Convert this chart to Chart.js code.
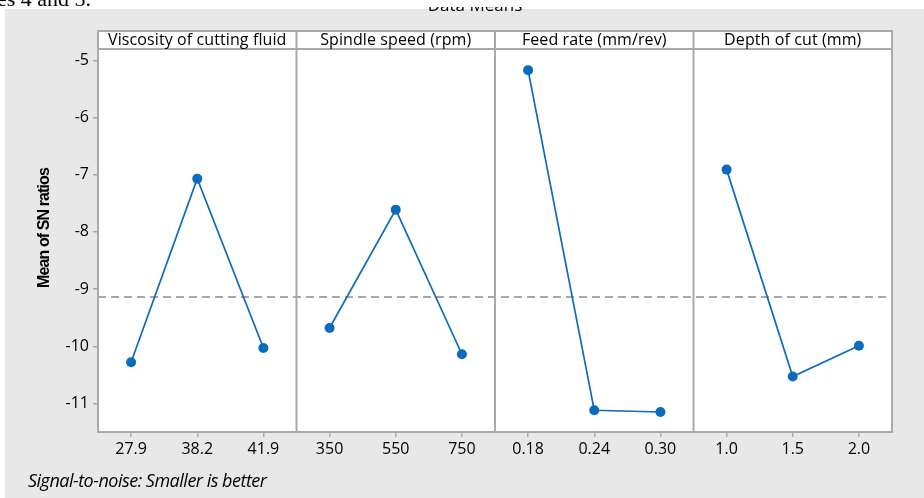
<!DOCTYPE html>
<html>
<head>
<meta charset="utf-8">
<script src="https://cdn.jsdelivr.net/npm/chart.js@4.4.0/dist/chart.umd.min.js"></script>
<style>
html,body{margin:0;padding:0;background:#fff;}
</style>
</head>
<body>
<canvas id="effectsChart" width="924" height="498"></canvas>
<script>
// factor levels
const viscosityLevels=['27.9','38.2','41.9'];
const spindleLevels=['350','550','750'];
const feedLevels=['0.18','0.24','0.30'];
const depthLevels=['1.0','1.5','2.0'];

// mean SN ratio at each level
const viscositySN=[-10.28,-7.07,-10.03];
const spindleSN=[-9.68,-7.61,-10.14];
const feedSN=[-5.17,-11.12,-11.15];
const depthSN=[-6.91,-10.53,-9.99];

const factorTitles=['Viscosity of cutting fluid','Spindle speed (rpm)','Feed rate (mm/rev)','Depth of cut (mm)'];
const yTicks=[-5,-6,-7,-8,-9,-10,-11];
const grandMean=-9.14;

const blue='#0b6bbd';
const frame='#a9a9a9';

const levels=[viscosityLevels,spindleLevels,feedLevels,depthLevels];
const means=[viscositySN,spindleSN,feedSN,depthSN];
const labels=[].concat(...levels);

// one dataset per factor, nulls keep the panels apart
const datasets=means.map((vals,i)=>{
let d=labels.map(()=>null);
vals.forEach((v,j)=>{d[i*3+j]=v;});
return {label:factorTitles[i],data:d,borderColor:blue,backgroundColor:blue,
borderWidth:1.7,pointRadius:5,pointHoverRadius:5,pointBorderWidth:0,spanGaps:false};
});

const panelPlugin={
id:'panels',
beforeDraw(chart){
const c=chart.ctx,a=chart.chartArea;
c.save();
c.fillStyle='#fff';
c.fillRect(0,0,chart.width,chart.height);
c.fillStyle='#e8e8e8';
c.fillRect(5,9,chart.width-5,chart.height-9);
// text of the page above the figure
c.fillStyle='#000';
c.font='22px "Liberation Serif"';
c.textBaseline='alphabetic';
c.textAlign='left';
c.fillText('es 4 and 5.',-3,6);
// figure subtitle, cut off at the top edge
c.save();
c.beginPath();
c.rect(0,7,chart.width,10);
c.clip();
c.font='17px "Open Sans"';
c.textAlign='center';
c.fillText('Data Means',475,11);
c.restore();
// plot and header strip
c.fillStyle='#fff';
c.fillRect(a.left,31,a.right-a.left,a.bottom-31);
c.restore();
},
beforeDatasetsDraw(chart){
const c=chart.ctx,a=chart.chartArea;
const y=chart.scales.y.getPixelForValue(grandMean);
c.save();
c.strokeStyle='#a8a8a8';
c.lineWidth=2;
c.setLineDash([8,5]);
c.beginPath();
c.moveTo(a.left,y);
c.lineTo(a.right,y);
c.stroke();
c.restore();
},
afterDatasetsDraw(chart){
const c=chart.ctx,a=chart.chartArea,x=chart.scales.x;
const top=31;
let edges=[a.left];
for(let i=1;i<4;i++)edges.push((x.getPixelForValue(i*3-1)+x.getPixelForValue(i*3))/2);
edges.push(a.right);
c.save();
c.strokeStyle=frame;
c.lineWidth=2;
c.strokeRect(a.left,top,a.right-a.left,a.bottom-top);
c.beginPath();
c.moveTo(a.left,a.top);
c.lineTo(a.right,a.top);
for(let i=1;i<4;i++){c.moveTo(edges[i],top);c.lineTo(edges[i],a.bottom);}
c.stroke();
// panel headers
c.fillStyle='#000';
c.font='16px "Open Sans"';
c.letterSpacing='0.1px';
c.textAlign='center';
c.textBaseline='middle';
factorTitles.forEach((t,i)=>c.fillText(t,(edges[i]+edges[i+1])/2,40));
// axis title
c.save();
c.translate(45,228);
c.rotate(-Math.PI/2);
c.font='bold 16px "Liberation Sans"';
c.letterSpacing='-0.9px';
c.fillText('Mean of SN ratios',0,0);
c.restore();
// footnote
c.font='italic 18px "Open Sans"';
c.letterSpacing='-0.5px';
c.textAlign='left';
c.fillText('Signal-to-noise: Smaller is better',28,482);
c.restore();
}
};

new Chart(document.getElementById('effectsChart'),{
type:'line',
data:{labels:labels,datasets:datasets},
options:{
responsive:false,
animation:false,
layout:{padding:{left:0,right:32,top:49,bottom:26}},
plugins:{legend:{display:false},tooltip:{enabled:false}},
scales:{
x:{
type:'category',
offset:true,
afterFit(s){s.height=40;},
border:{display:false},
grid:{drawOnChartArea:false,tickLength:5,color:frame,lineWidth:1.5},
ticks:{color:'#000',font:{family:'Open Sans',size:16},padding:3,maxRotation:0,autoSkip:false}
},
y:{
min:-11.5,max:-4.8,
afterFit(s){s.width=98;},
afterBuildTicks(s){s.ticks=yTicks.map(v=>({value:v}));},
border:{display:false},
grid:{drawOnChartArea:false,tickLength:5,color:frame,lineWidth:1.5},
ticks:{color:'#000',font:{family:'Open Sans',size:16},padding:4}
}
}
},
plugins:[panelPlugin]
});
</script>
</body>
</html>
